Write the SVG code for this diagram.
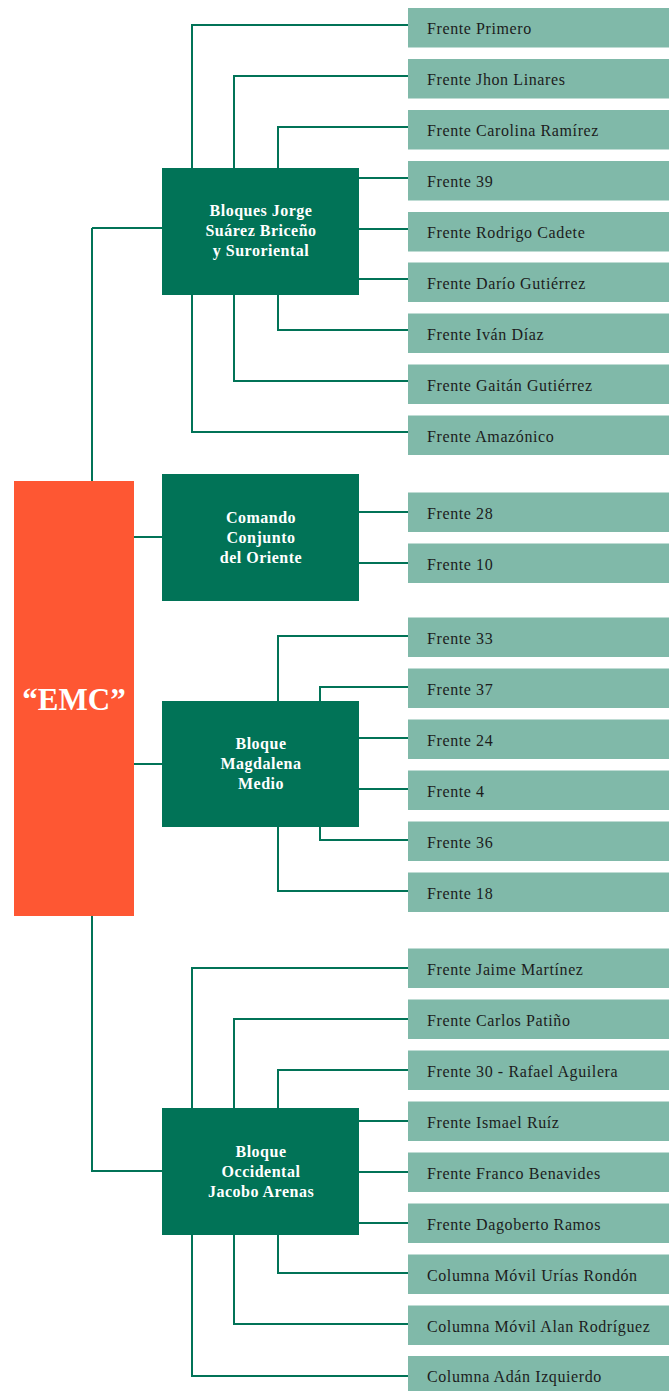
<svg xmlns="http://www.w3.org/2000/svg" width="670" height="1391" viewBox="0 0 670 1391">
<style>
.leaf rect{fill:#80b9a9}
.leaf text{font-family:"Liberation Serif",serif;font-size:16px;letter-spacing:0.6px;fill:#1c1c1c}
.blk rect{fill:#017357}
.blk text{font-family:"Liberation Serif",serif;font-size:16px;font-weight:bold;letter-spacing:0.5px;fill:#ffffff;text-anchor:middle}
.conn path{fill:none;stroke:#017357;stroke-width:2}
</style>
<rect width="670" height="1391" fill="#ffffff"/>
<g class="conn" id="connectors">
<path d="M92,228 H162 M92,228 V481 M134,537 H162 M134,764 H162 M92,916 V1171 H162"/>
<path d="M192,168 V25 H408 M234,168 V76 H408 M278,168 V127 H408 M359,178 H408 M359,229 H408 M359,279 H408 M278,295 V330 H408 M234,295 V381 H408 M192,295 V432 H408"/>
<path d="M359,512 H408 M359,563 H408"/>
<path d="M278,701 V636 H408 M320,701 V687 H408 M359,738 H408 M359,789 H408 M320,827 V840 H408 M278,827 V891 H408"/>
<path d="M192,1108 V968 H408 M234,1108 V1019 H408 M278,1108 V1070 H408 M359,1121 H408 M359,1172 H408 M359,1223 H408 M278,1235 V1273 H408 M234,1235 V1324 H408 M192,1235 V1376 H408"/>
</g>
<g id="emc">
<rect x="14" y="481" width="120" height="435" fill="#fe5733"/>
<text x="74" y="710" font-family="'Liberation Serif',serif" font-size="31" font-weight="bold" fill="#ffffff" text-anchor="middle">“EMC”</text>
</g>
<g class="blk" id="b1"><rect x="162" y="168" width="197" height="127"/><text x="261" y="216">Bloques Jorge</text><text x="261" y="236">Suárez Briceño</text><text x="261" y="256">y Suroriental</text></g>
<g class="blk" id="b2"><rect x="162" y="474" width="197" height="127"/><text x="261" y="523">Comando</text><text x="261" y="543">Conjunto</text><text x="261" y="563">del Oriente</text></g>
<g class="blk" id="b3"><rect x="162" y="701" width="197" height="126"/><text x="261" y="749">Bloque</text><text x="261" y="769">Magdalena</text><text x="261" y="789">Medio</text></g>
<g class="blk" id="b4"><rect x="162" y="1108" width="197" height="127"/><text x="261" y="1157">Bloque</text><text x="261" y="1177">Occidental</text><text x="261" y="1197">Jacobo Arenas</text></g>
<g class="leaf" id="l1"><rect x="408" y="8" width="261" height="39.5"/><text x="427" y="34">Frente Primero</text></g>
<g class="leaf" id="l2"><rect x="408" y="59" width="261" height="39.5"/><text x="427" y="85">Frente Jhon Linares</text></g>
<g class="leaf" id="l3"><rect x="408" y="110" width="261" height="39.5"/><text x="427" y="136">Frente Carolina Ramírez</text></g>
<g class="leaf" id="l4"><rect x="408" y="161" width="261" height="39.5"/><text x="427" y="187">Frente 39</text></g>
<g class="leaf" id="l5"><rect x="408" y="212" width="261" height="39.5"/><text x="427" y="238">Frente Rodrigo Cadete</text></g>
<g class="leaf" id="l6"><rect x="408" y="262.5" width="261" height="39.5"/><text x="427" y="288.5">Frente Darío Gutiérrez</text></g>
<g class="leaf" id="l7"><rect x="408" y="313.5" width="261" height="39.5"/><text x="427" y="339.5">Frente Iván Díaz</text></g>
<g class="leaf" id="l8"><rect x="408" y="364.5" width="261" height="39.5"/><text x="427" y="390.5">Frente Gaitán Gutiérrez</text></g>
<g class="leaf" id="l9"><rect x="408" y="415.5" width="261" height="39.5"/><text x="427" y="441.5">Frente Amazónico</text></g>
<g class="leaf" id="l10"><rect x="408" y="492.5" width="261" height="39.5"/><text x="427" y="518.5">Frente 28</text></g>
<g class="leaf" id="l11"><rect x="408" y="543.5" width="261" height="39.5"/><text x="427" y="569.5">Frente 10</text></g>
<g class="leaf" id="l12"><rect x="408" y="617.5" width="261" height="39.5"/><text x="427" y="643.5">Frente 33</text></g>
<g class="leaf" id="l13"><rect x="408" y="668.5" width="261" height="39.5"/><text x="427" y="694.5">Frente 37</text></g>
<g class="leaf" id="l14"><rect x="408" y="719.5" width="261" height="39.5"/><text x="427" y="745.5">Frente 24</text></g>
<g class="leaf" id="l15"><rect x="408" y="770.5" width="261" height="39.5"/><text x="427" y="796.5">Frente 4</text></g>
<g class="leaf" id="l16"><rect x="408" y="821.5" width="261" height="39.5"/><text x="427" y="847.5">Frente 36</text></g>
<g class="leaf" id="l17"><rect x="408" y="872.5" width="261" height="39.5"/><text x="427" y="898.5">Frente 18</text></g>
<g class="leaf" id="l18"><rect x="408" y="948.5" width="261" height="39.5"/><text x="427" y="974.5">Frente Jaime Martínez</text></g>
<g class="leaf" id="l19"><rect x="408" y="999.5" width="261" height="39.5"/><text x="427" y="1025.5">Frente Carlos Patiño</text></g>
<g class="leaf" id="l20"><rect x="408" y="1050.5" width="261" height="39.5"/><text x="427" y="1076.5">Frente 30 - Rafael Aguilera</text></g>
<g class="leaf" id="l21"><rect x="408" y="1101.5" width="261" height="39.5"/><text x="427" y="1127.5">Frente Ismael Ruíz</text></g>
<g class="leaf" id="l22"><rect x="408" y="1152.5" width="261" height="39.5"/><text x="427" y="1178.5">Frente Franco Benavides</text></g>
<g class="leaf" id="l23"><rect x="408" y="1203.5" width="261" height="39.5"/><text x="427" y="1229.5">Frente Dagoberto Ramos</text></g>
<g class="leaf" id="l24"><rect x="408" y="1254.5" width="261" height="39.5"/><text x="427" y="1280.5">Columna Móvil Urías Rondón</text></g>
<g class="leaf" id="l25"><rect x="408" y="1305.5" width="261" height="39.5"/><text x="427" y="1331.5">Columna Móvil Alan Rodríguez</text></g>
<g class="leaf" id="l26"><rect x="408" y="1356" width="261" height="39.5"/><text x="427" y="1382">Columna Adán Izquierdo</text></g>
</svg>
